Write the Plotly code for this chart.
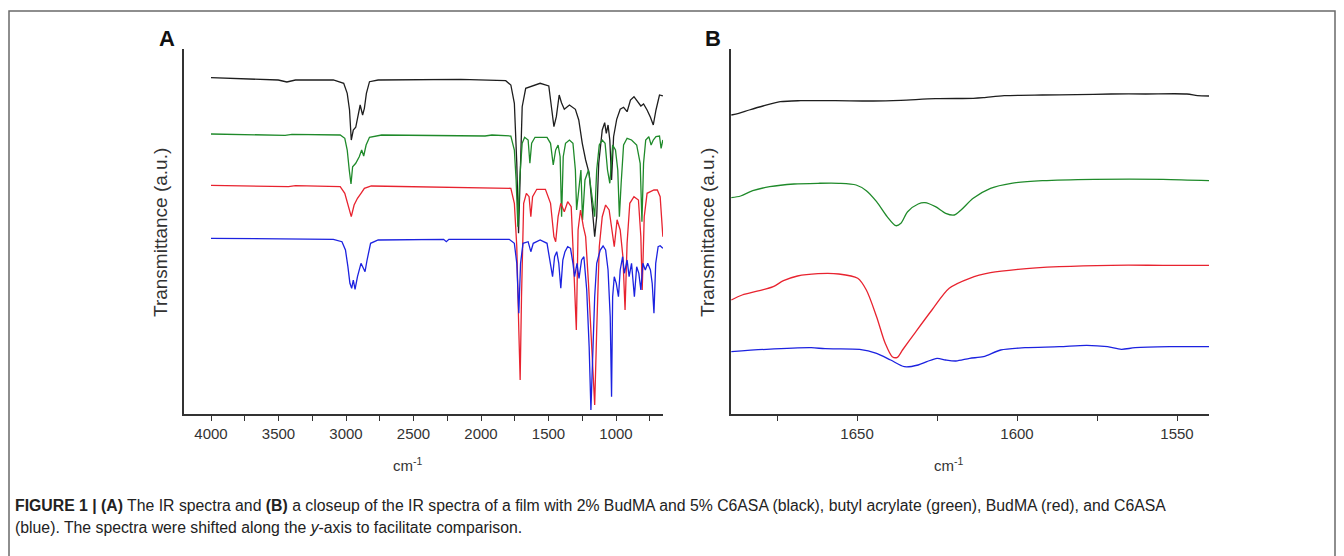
import plotly.graph_objects as go

# ---------------- Panel A data (wavenumber cm^-1, transmittance a.u.) ----------------
wnA_black = [4000, 3655, 3502, 3438, 3374, 3094, 3017, 2991, 2974, 2961, 2946, 2928, 2910, 2895, 2877, 2864,
             2849, 2826, 2762, 2277, 2149, 1817, 1779, 1753, 1735, 1722, 1710, 1695, 1669, 1613, 1562, 1498,
             1478, 1460, 1442, 1421, 1404, 1383, 1345, 1301, 1276, 1250, 1225, 1199, 1179, 1158, 1143, 1128,
             1102, 1084, 1072, 1059, 1046, 1033, 1018, 995, 969, 944, 918, 893, 867, 842, 816, 796, 770, 745,
             724, 704, 678, 653]
tA_black = [336.3, 335, 334, 332, 334, 334, 330.7, 320.7, 304, 274, 284, 286.7, 300.7, 309, 299, 305.7,
            320.7, 332.3, 334, 334, 334.7, 333.3, 329, 310.7, 250.7, 180.7, 250.7, 307.3, 325.7, 328, 330.7, 328,
            307.3, 287.3, 297.3, 319, 311.3, 304.7, 309, 304.7, 294, 270.7, 254, 240.7, 210.7, 177.3, 197.3, 250.7,
            284, 291.3, 280.7, 289, 274, 234, 277.3, 294.7, 304.7, 306.7, 302.3, 314, 317.3, 312.3, 308, 310, 304, 296.7,
            289, 304, 319, 318]

wnA_green = [4000, 3451, 3400, 3043, 3009, 2991, 2976, 2963, 2951, 2928, 2902, 2884, 2869, 2851, 2826, 2736,
             1970, 1919, 1779, 1753, 1740, 1727, 1714, 1695, 1677, 1651, 1638, 1625, 1600, 1511, 1485, 1465,
             1447, 1429, 1414, 1403, 1391, 1374, 1345, 1319, 1301, 1292, 1276, 1260, 1248, 1230, 1204, 1179,
             1158, 1143, 1124, 1102, 1081, 1063, 1046, 1025, 1004, 987, 975, 962, 944, 918, 885, 847, 821,
             808, 796, 780, 757, 740, 724, 704, 678, 666, 653]
tA_green = [280, 278.7, 279.7, 279, 275.7, 264, 244, 230, 247.3, 250.7, 257.3, 264, 258, 269, 276.7, 279,
            278, 279, 278, 264, 234, 187.3, 234, 270.7, 276.7, 274, 250.7, 270.7, 276.7, 276.7, 270.7, 249,
            264, 269, 257.3, 197.3, 257.3, 270.7, 274, 270.7, 244, 204, 224, 244, 194, 234, 244, 217.3,
            197.3, 244, 269, 274, 270.7, 244, 230.7, 269, 264, 244, 197.3, 230.7, 269, 275.7, 274, 269, 250.7,
            192.3, 250.7, 274, 277.3, 269, 274, 277.3, 278, 265.7, 274]

wnA_red = [4000, 3426, 3374, 3043, 3009, 2984, 2961, 2940, 2915, 2889, 2864, 2813, 1779, 1753, 1735, 1720,
           1710, 1700, 1684, 1664, 1644, 1631, 1618, 1587, 1523, 1485, 1460, 1447, 1429, 1409, 1383, 1358,
           1332, 1319, 1307, 1294, 1281, 1263, 1242, 1225, 1204, 1179, 1158, 1143, 1124, 1102, 1077, 1051,
           1031, 1013, 992, 969, 949, 933, 918, 898, 867, 834, 816, 806, 791, 770, 745, 719, 694, 673, 653]
tA_red = [228.7, 227.3, 228.3, 227.3, 220.7, 209, 197.3, 209, 215.7, 220.7, 225.7, 228, 225.7, 210.7, 167.3, 84,
          34, 117.3, 210.7, 220.7, 217.3, 197.3, 217.3, 224.7, 224.7, 210.7, 177.3, 172.3, 197.3, 210.7, 202.3, 212.3,
          207.3, 167.3, 130.7, 84, 184, 204, 187.3, 177.3, 130.7, 67.3, 9, 84, 167.3, 197.3, 209, 204,
          184, 167.3, 194.3, 184, 157.3, 104, 170.7, 210.7, 217.3, 214, 177.3, 124, 197.3, 220.7, 222.3, 224, 224, 217.3, 177.3]

wnA_blue = [4000, 3502, 3094, 3030, 3004, 2986, 2971, 2958, 2946, 2933, 2915, 2889, 2877, 2859, 2844, 2818,
            2762, 2277, 2257, 2238, 1791, 1753, 1735, 1720, 1707, 1689, 1651, 1631, 1613, 1562, 1511, 1485,
            1470, 1455, 1439, 1424, 1409, 1394, 1378, 1358, 1337, 1319, 1307, 1289, 1274, 1255, 1238, 1217,
            1199, 1186, 1173, 1158, 1143, 1117, 1096, 1077, 1059, 1043, 1033, 1025, 1013, 998, 982, 969, 951,
            938, 918, 903, 885, 864, 847, 831, 816, 801, 783, 765, 745, 732, 719, 706, 688, 673, 653]
tA_blue = [175.7, 175, 174.7, 172.3, 164, 147.3, 130.7, 125.7, 134, 124.7, 137.3, 150.7, 147.3, 142.3, 154, 170.7,
           174, 174.7, 172.3, 174.7, 174.7, 170.7, 150.7, 100.7, 150.7, 170.7, 172.3, 162.3, 170.7, 174, 170.7, 150.7,
           137.3, 157.3, 162.3, 150.7, 125.7, 154, 162.3, 167.3, 165.7, 150.7, 137.3, 150.7, 135.7, 154, 157.3, 124,
           67.3, 4, 50.7, 117.3, 150.7, 164, 168, 164, 144, 97.3, 17.3, 117.3, 137.3, 130.7, 117.3, 144, 157.3,
           140.7, 154, 137.3, 150.7, 117.3, 147.3, 140.7, 124, 150.7, 144, 150.7, 144, 130.7, 100.7, 150.7, 167.3, 168.3, 165.7]

# ---------------- Panel B data (closeup) ----------------
wnB_black = [1689.3, 1687, 1683.7, 1679.4, 1674, 1667.6, 1656.8, 1644.9, 1636.3, 1625.5, 1613.7, 1610.5, 1604,
             1592.1, 1581.4, 1570.6, 1559.8, 1546.9, 1543.6, 1539.9]
tB_black = [299, 300.7, 304, 308, 312.3, 313.3, 313.3, 313, 313.7, 315.3, 315.7, 316.3, 318.3,
            319, 319.3, 320, 320, 320, 318.3, 318]

wnB_green = [1689.3, 1686.4, 1682.6, 1677.3, 1669.7, 1662.2, 1655.7, 1650.3, 1647.1, 1643.9, 1640.6, 1637.9,
             1636.3, 1634.2, 1630.9, 1628.8, 1625.5, 1622.3, 1619.6, 1617.5, 1613.7, 1608.3, 1601.8, 1592.1,
             1576, 1554.4, 1539.9]
tB_green = [216.3, 218, 223.3, 227.3, 230, 230.7, 230.7, 229, 223.3, 212.3, 197.3, 188.3,
            190.7, 202.3, 210, 211.3, 207.3, 200.7, 199, 204, 215.7, 225.7, 230.7, 233.3,
            234.7, 234.7, 233.3]

wnB_red = [1689.3, 1685.9, 1680.5, 1676.2, 1673, 1668.6, 1662.2, 1655.7, 1649.8, 1647.1, 1643.9, 1641.2, 1639,
           1637.4, 1635.8, 1632, 1626.6, 1621.2, 1614.8, 1608.3, 1599.7, 1586.8, 1570.6, 1554.4, 1539.9]
tB_red = [114, 119, 123.3, 127.3, 133.3, 138, 140.3, 140, 135.7, 124, 97.3, 70.7, 57.3,
          56.7, 64, 80.7, 104, 125.7, 135.7, 141.3, 144.7, 147.3, 148.7, 148.7, 148.7]

wnB_blue = [1689.3, 1678.3, 1664.3, 1660, 1649.2, 1643.9, 1639.5, 1635.2, 1630.9, 1628.2, 1625, 1622.3, 1619.1,
            1614.8, 1610.5, 1605.1, 1597.5, 1586.8, 1578.2, 1571.7, 1567.4, 1563.1, 1552.3, 1539.9]
tB_blue = [62.3, 64.7, 66.3, 65.3, 64.7, 60.7, 54, 47.3, 49, 52.3, 55.7, 54, 53,
           55.7, 57.3, 64, 66.3, 67.3, 68.7, 67.3, 64.7, 66.3, 67.3, 67.3]

colors = {"black": "#1e1e1e", "green": "#1f8a2a", "red": "#e8232f", "blue": "#1c22e0"}

W, H = 1344, 556
def px(x):
    return x / W
def py(y):
    return 1 - y / H

fig = go.Figure()

seriesA = [("black", wnA_black, tA_black), ("green", wnA_green, tA_green),
           ("red", wnA_red, tA_red), ("blue", wnA_blue, tA_blue)]
seriesB = [("black", wnB_black, tB_black), ("green", wnB_green, tB_green),
           ("red", wnB_red, tB_red), ("blue", wnB_blue, tB_blue)]

for name, x, y in seriesA:
    fig.add_trace(go.Scatter(x=x, y=y, mode="lines", name=name,
                             line=dict(color=colors[name], width=1.3),
                             xaxis="x", yaxis="y", showlegend=False))
for name, x, y in seriesB:
    fig.add_trace(go.Scatter(x=x, y=y, mode="lines", name=name,
                             line=dict(color=colors[name], width=1.3, shape="spline", smoothing=0.8),
                             xaxis="x2", yaxis="y2", showlegend=False))

axis_font = dict(family="Liberation Sans, Arial, sans-serif", size=15, color="#333333")
common_x = dict(showgrid=False, zeroline=False, showline=True, linecolor="#333333", linewidth=1.5,
                ticks="outside", ticklen=5, tickwidth=1.3, tickcolor="#333333", tickfont=axis_font)
common_y = dict(showgrid=False, zeroline=False, showline=True, linecolor="#333333", linewidth=1.5,
                showticklabels=False, ticks="", range=[0, 365])

fig.update_layout(
    width=W, height=H,
    margin=dict(l=0, r=0, t=0, b=0),
    paper_bgcolor="white", plot_bgcolor="white",
    xaxis=dict(domain=[px(184), px(663)], range=[4200, 652], tick0=0, dtick=500,
               minor=dict(ticks="outside", ticklen=5, tickwidth=1.3, tickcolor="#333333", dtick=250, tick0=0, showgrid=False),
               anchor="y", **common_x),
    yaxis=dict(domain=[py(414), py(49)], anchor="x", **common_y),
    xaxis2=dict(domain=[px(731), px(1209)], range=[1689.4, 1540], tick0=0, dtick=50,
                minor=dict(ticks="outside", ticklen=5, tickwidth=1.3, tickcolor="#333333", dtick=25, tick0=0, showgrid=False),
                anchor="y2", **common_x),
    yaxis2=dict(domain=[py(414), py(49)], anchor="x2", **common_y),
)

def note(text, x, y, font, xanchor="center", angle=0):
    return dict(text=text, x=px(x), y=py(y), xref="paper", yref="paper", xanchor=xanchor, yanchor="middle",
                textangle=angle, showarrow=False, font=font)

ann = []
label_font = dict(family="Liberation Sans, Arial, sans-serif", size=22, color="#111111")
ann.append(note("<b>A</b>", 167, 38, label_font))
ann.append(note("<b>B</b>", 713, 38, label_font))
ytitle_font = dict(family="Liberation Sans, Arial, sans-serif", size=19, color="#333333")
ann.append(note("Transmittance (a.u.)", 160, 233, ytitle_font, angle=-90))
ann.append(note("Transmittance (a.u.)", 707, 233, ytitle_font, angle=-90))
xt_font = dict(family="Liberation Sans, Arial, sans-serif", size=15, color="#333333")
ann.append(note("cm<sup>-1</sup>", 408, 464, xt_font))
ann.append(note("cm<sup>-1</sup>", 948, 464, xt_font))

cap_font = dict(family="Liberation Sans, Arial, sans-serif", size=15.8, color="#222222")
ann.append(note("<b>FIGURE 1 | (A)</b> The IR spectra and <b>(B)</b> a closeup of the IR spectra of a film with 2% BudMA and 5% C6ASA (black), butyl acrylate (green), BudMA (red), and C6ASA",
                13, 505, cap_font, xanchor="left"))
ann.append(note("(blue). The spectra were shifted along the <i>y</i>-axis to facilitate comparison.",
                13, 527, cap_font, xanchor="left"))
fig.update_layout(annotations=ann)

fig.add_shape(type="rect", xref="paper", yref="paper", x0=px(9), x1=px(1335), y0=-0.1, y1=py(11),
              line=dict(color="#6a6a6a", width=1.5), fillcolor="rgba(0,0,0,0)", layer="below")

fig.write_html("out.html", config={"displayModeBar": False},
               post_script="document.body.style.margin='0';document.body.style.overflow='hidden';")
